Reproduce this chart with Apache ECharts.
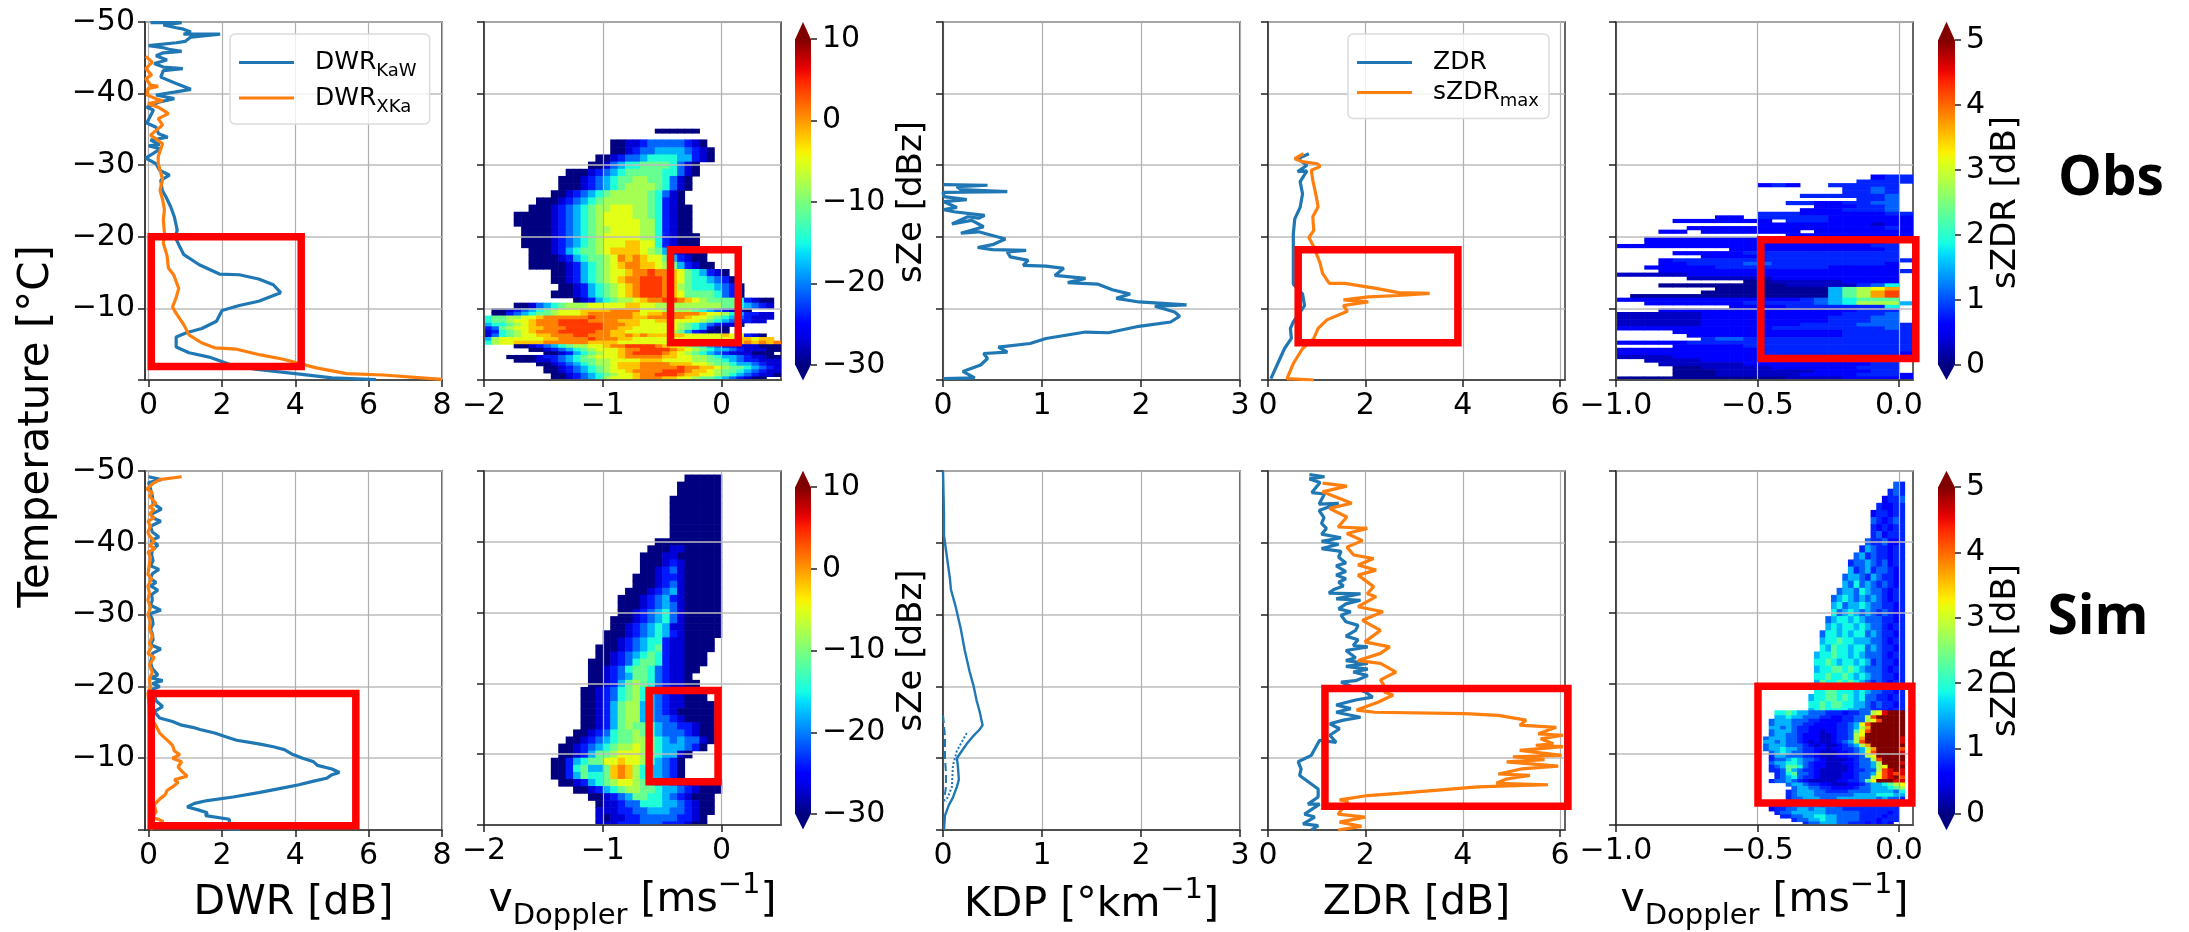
<!DOCTYPE html>
<html><head><meta charset="utf-8">
<style>html,body{margin:0;padding:0;background:#fff}#c{width:2189px;height:932px}</style>
<script src="https://cdn.jsdelivr.net/npm/echarts@6/dist/echarts.min.js"></script>
</head><body><div id="c"></div>
<script>
// ---------- line profiles: [value, temperature] ----------
const obsKaw=[[.05,-49.9],[.9,-49.9],[.4,-49.6],[.75,-49.2],[.95,-49],[1.15,-48.6],[.95,-48.3],[1.95,-48.3],[1.15,-47.9],[1,-47.3],[.75,-47.1],[0,-46.7],[.4,-46.4],[.55,-46.2],[.9,-45.9],[.4,-45.7],[.2,-45.3],[.5,-44.7],[.15,-44.2],[.4,-43.7],[.93,-43.5],[.4,-43.2],[.33,-42.3],[.75,-41.4],[1.15,-40.6],[.7,-40.2],[.2,-39.8],[.7,-39.3],[.27,-38.8],[-.05,-38.1],[.13,-37.7],[-.05,-35.9],[.2,-35.3],[.27,-34.4],[.52,-33.9],[.05,-33.5],[.3,-32.9],[0,-32.7],[.33,-32.3],[-.08,-31],[.2,-30.2],[.3,-29.3],[.57,-28.6],[.33,-27.9],[.37,-26.5],[.47,-25.6],[.6,-24.2],[.7,-22.8],[.78,-20.9],[.72,-20],[.82,-18.9],[.96,-17.5],[1.38,-16.1],[1.93,-14.8],[2.47,-14.7],[3,-14.1],[3.4,-13.3],[3.6,-12.2],[3,-11],[2.47,-10.4],[2,-9.7],[1.85,-8.2],[1.45,-7.2],[1.03,-6.6],[.75,-6],[.75,-4.6],[1.1,-3.8],[1.65,-3.2],[2.2,-2.2],[2.9,-1.5],[4,-.9],[5,-.3],[6.2,-.05]];
const obsXka=[[-.08,-45.2],[.1,-44.4],[-.08,-43.5],[.08,-42.6],[-.08,-42.1],[.05,-41.2],[.26,-41],[-.02,-40.7],[-.04,-39.8],[.19,-39.3],[.38,-39],[-.02,-38.6],[.26,-38.1],[.54,-37.2],[.26,-36.5],[.38,-35.6],[.05,-34.2],[.38,-33],[.26,-31.2],[.26,-30.3],[.38,-28],[.31,-26.5],[.38,-25.2],[.43,-23.8],[.4,-22.4],[.43,-20.5],[.4,-19.1],[.5,-17.4],[.54,-15.6],[.68,-14.7],[.82,-12.8],[.75,-11.5],[.65,-10.2],[.75,-9.3],[.96,-7.7],[1.1,-6.3],[1.44,-5.2],[1.8,-4.5],[2.4,-4.3],[3.05,-3.5],[3.67,-2.9],[4.57,-1.7],[5.4,-.9],[6.4,-.7],[8,-.1]];
const obsKdp=[[0,-27.3],[.45,-27.2],[.14,-27],[.18,-26.6],[.65,-26.3],[0,-26.2],[.01,-25.6],[.24,-25.2],[.01,-24.9],[.14,-24.1],[.01,-23.8],[.11,-23.5],[.42,-23],[.36,-22.6],[.25,-22.8],[.09,-21.8],[.29,-22.3],[.41,-21.4],[.18,-20.5],[.36,-20.7],[.63,-19.7],[.5,-18.9],[.35,-18.5],[.5,-18.2],[.84,-18.1],[.65,-17.9],[.68,-17.2],[.86,-16.7],[.81,-16],[1.04,-15.9],[1.22,-15.6],[1.13,-14.6],[1.44,-14.2],[1.26,-13.6],[1.56,-13.4],[1.71,-12.6],[1.89,-12],[1.75,-11.4],[1.98,-10.9],[2.46,-10.5],[2.14,-10.3],[2.34,-9.5],[2.39,-8.9],[2.3,-8.1],[1.98,-7.5],[1.67,-6.6],[1.44,-6.7],[1.04,-5.8],[.88,-5.1],[.56,-4.6],[.65,-3.9],[.41,-3.7],[.45,-3],[.38,-2.1],[.2,-1.2],[.32,-.3],[0,-.2]];
const obsZdr=[[.84,-31.6],[.61,-30.9],[.8,-30],[.61,-29.1],[.8,-29.2],[.66,-27.7],[.71,-26],[.66,-24.1],[.55,-22.5],[.52,-20.4],[.52,-17.6],[.52,-13.4],[.71,-12],[.75,-10.4],[.52,-8.1],[.46,-7.2],[.48,-5.8],[.34,-4.4],[.2,-2.3],[.06,-.2]];
const obsSzdr=[[.73,-31.6],[.55,-30.9],[.7,-30.5],[1.02,-30.2],[1.07,-29.8],[.89,-29.3],[.92,-27.9],[.98,-26],[1.03,-24.2],[.92,-22.8],[.94,-20.9],[.84,-19.9],[.94,-18.6],[1.07,-16.3],[1.12,-14.9],[1.26,-13.5],[1.58,-13.5],[2.22,-12.8],[2.68,-12.2],[3.32,-12.1],[2.68,-11.8],[2.06,-11.6],[1.55,-11.2],[2.06,-10.9],[1.55,-10.4],[1.63,-9.6],[1.21,-8.4],[1.03,-7.2],[.94,-5.8],[.71,-4.4],[.52,-2.3],[.39,-.2],[.94,0]];
const simKaw=[[0,-49.2],[.35,-48.8],[0,-48.4],[.05,-47.5],[.1,-46.5],[.12,-45.5],[.35,-44.7],[.08,-44],[.1,-43.5],[.33,-43],[.05,-42.3],[.1,-41.5],[.28,-40.8],[.05,-40.3],[.25,-39.7],[.1,-39],[.08,-38.3],[.12,-37.5],[.05,-36.8],[.28,-36.3],[.1,-35.7],[.05,-35],[.2,-34.5],[.05,-34],[.25,-33.4],[.08,-32.8],[.1,-32],[.05,-31.3],[.33,-30.6],[.02,-30.1],[.1,-29.4],[.12,-28.7],[.05,-28],[.1,-27.3],[.12,-26.5],[.05,-25.8],[.33,-25.2],[.1,-24.6],[.08,-23.9],[.05,-23.3],[.1,-22.5],[.25,-21.6],[.05,-21.2],[.38,-20.8],[.1,-20.4],[.3,-20],[.1,-19.6],[.15,-19],[.2,-18],[.38,-17.2],[.15,-16.5],[.3,-15.6],[.65,-15.1],[.9,-14.6],[1.2,-14.3],[1.4,-14],[1.8,-13.5],[2.1,-13],[2.4,-12.5],[3,-12],[3.4,-11.6],[3.7,-11.2],[3.9,-10.6],[4.2,-10],[4.5,-9.5],[4.6,-9],[5,-8.5],[5.2,-8],[5,-7.7],[4.85,-7.2],[4.5,-6.8],[4.1,-6.3],[3.6,-5.8],[3,-5.2],[2.3,-4.6],[1.6,-4.1],[1.25,-3.7],[1.05,-3.2],[1.35,-2.8],[1.6,-2.4],[1.55,-2],[2.2,-1.5],[2.2,-.8],[1.5,-.4],[2.5,-.1]];
const simXka=[[.9,-49.2],[.3,-48.8],[.1,-48.2],[-.05,-47.5],[.1,-47],[.02,-46.5],[.2,-45.5],[.02,-45],[.15,-44.6],[.02,-44],[.15,-43.5],[-.02,-43],[.05,-42.3],[-.02,-41.5],[.02,-41],[.15,-40.2],[.02,-39.6],[.18,-39.2],[-.02,-38.7],[.05,-38],[.02,-37],[-.02,-35.6],[.08,-35],[-.02,-34],[.02,-33],[-.02,-32],[.05,-31],[-.02,-30],[.05,-29],[.02,-28],[.1,-27],[.02,-26],[.08,-25.5],[-.02,-24.6],[.15,-24],[.02,-23],[.1,-22],[.02,-21],[.05,-20],[-.02,-19],[.02,-17],[.02,-16],[.1,-15.3],[.2,-14.5],[.3,-13.5],[.4,-13],[.55,-12.3],[.65,-11.8],[.7,-11],[.85,-10.5],[.65,-10],[.9,-9.5],[.8,-8.8],[.9,-8.2],[1.05,-7.5],[.7,-7],[.8,-6.6],[.65,-6],[.5,-5.5],[.45,-4.9],[.3,-4.3],[.15,-3.5],[.2,-2.5],[.1,-1.8],[.4,-1.2],[.15,-.5],[.05,-.1]];
const simKdp=[[0,-50],[.01,-44],[.01,-41],[.03,-39],[.07,-35],[.08,-33.5],[.13,-31],[.18,-28],[.22,-25],[.27,-22],[.31,-20],[.34,-18],[.37,-16.5],[.4,-14.6],[.37,-14],[.3,-13],[.24,-12],[.19,-11],[.14,-10],[.15,-9],[.16,-7],[.14,-6],[.1,-4.5],[.06,-3.5],[.02,-2],[.01,0]];
const simKdpDotted=[[.24,-13.5],[.14,-11],[.1,-9],[.09,-6],[.03,-4]];
const simKdpDashed=[[0,-16],[.02,-13],[.02,-10],[.03,-8],[.03,-6],[.01,-4]];
const simZdr=[[.85,-49.5],[1.16,-49.2],[.85,-48.9],[1.07,-48.4],[.9,-47],[1.16,-46.8],[1.05,-45.4],[1.45,-45.5],[1.05,-44.5],[1.15,-43.5],[1.1,-42.7],[1.2,-42],[1.1,-41.2],[1.5,-40.7],[1.1,-40.2],[1.45,-39.8],[1.1,-39.2],[1.5,-38.8],[1.45,-38],[1.6,-37.2],[1.4,-36.8],[1.6,-36],[1.4,-35.5],[1.6,-35],[1.45,-34.5],[1.55,-34],[1.35,-33.5],[1.25,-33],[1.9,-32.9],[1.4,-32.2],[1.9,-32],[1.6,-31.5],[1.45,-30.8],[1.7,-30.4],[1.5,-29.9],[1.6,-29],[1.85,-28.5],[1.8,-27.8],[1.6,-27],[1.85,-26.5],[1.75,-25.7],[2.05,-25.5],[1.6,-25],[1.8,-24],[1.6,-23.6],[2.05,-23.2],[1.6,-22.8],[2.05,-22.4],[1.75,-22],[2.05,-21.5],[1.8,-20.8],[1.5,-20.6],[2,-19.2],[2.15,-18.5],[1.8,-18.1],[1.4,-17.4],[1.7,-16.9],[1.4,-16.4],[1.9,-15.7],[1.55,-15.3],[1.27,-14.8],[1.47,-14.1],[1.27,-13.2],[1.4,-12.2],[1.06,-12.5],[.89,-10.4],[.62,-9.5],[.68,-8.5],[.65,-7.6],[.89,-6.4],[1.03,-5.7],[1.03,-4.6],[.82,-3.6],[1.06,-3.6],[.75,-2.2],[.96,-1.8],[.72,-.85],[1.03,-.6],[.89,0]];
const simSzdr=[[1.12,-48.3],[1.62,-47.9],[1.12,-47.1],[1.72,-45.5],[1.26,-44.8],[1.62,-43.6],[1.44,-42.2],[2.04,-42],[1.62,-41.3],[1.94,-40.3],[1.62,-39.4],[1.76,-38.3],[2.17,-37.8],[1.85,-36.9],[2.22,-36.2],[1.85,-35.5],[2.17,-33.9],[2.04,-32.9],[2.22,-32.5],[1.85,-31.1],[2.36,-30.4],[1.94,-29.2],[2.31,-27.8],[1.99,-26.2],[2.5,-25.5],[2.31,-24.6],[1.85,-23.6],[2.31,-23.2],[2.63,-22],[2.31,-20.9],[2.4,-19.9],[2.36,-20.4],[2.4,-19.2],[2.57,-18.8],[2.26,-17.8],[1.82,-16.7],[2.19,-16.4],[4.04,-16.2],[4.73,-15.96],[5.3,-15.3],[5.17,-14.6],[5.92,-14.3],[5.55,-13.4],[6.06,-13.2],[5.6,-12.7],[5.86,-12],[5.5,-11.8],[6.06,-11.6],[5.17,-11.1],[6.03,-10.4],[5.03,-10.2],[5.68,-9.8],[4.9,-9.5],[5.96,-8.9],[5.2,-8.5],[4.73,-7.8],[5.38,-7.6],[4.9,-7.1],[4.69,-6.5],[5.75,-6.3],[4.3,-6],[3.56,-5.6],[2.67,-5.1],[2.05,-4.8],[1.47,-4.2],[1.64,-4],[1.44,-2.2],[1.99,-1.8],[1.47,-1.1],[1.92,-.5],[1.44,0]];

// ---------- shaded panels: level tables and rows [top temperature, first bin, levels] ----------
const zeLevels=[-30,-27,-24,-21,-18,-14.5,-11,-8,-5,-2,1,4];
const zdrLevels=[.1,.3,.55,.8,1.1,1.5,1.85,2.3,2.8,3.2,3.7,4.2,5,4.6];
const obsZeRows=[[-35.1,23,"000000"],[-34.5,24,""],[-33.6,17,"0011233333210"],[-32.5,17,"00123344443210"],[-31.5,15,"0012334555544210"],[-30.5,14,"001345566665310"],[-29.5,11,"000123456666655310"],[-28.5,10,"000123456677665310"],[-27.5,10,"000123456777765310"],[-26.5,9,"001234567777765310"],[-25.5,7,"00012345677777765210"],[-24.5,6,"0001234567788877652100"],[-23.5,4,"000001234567888877652100"],[-22.5,4,"000001234567888887752100"],[-21.5,5,"00001234567788887752100"],[-20.5,5,"000012345678888877521000"],[-19.5,5,"000012345678889988521000"],[-18.5,6,"000124566789999876421000"],[-17.5,6,"000012456678a9a988642100"],[-16.5,6,"0000012456789aa9987642100"],[-15.5,9,"00124567889aabaa98654210"],[-14.5,9,"0012456789aabbba986554320"],[-13.5,10,"0012456789abbba9765554320"],[-12.5,9,"00012456789abbba9866665320"],[-11.5,12,"0124567789aabba987666652100"],[-10.8,4,"00134567778888899887777777776654321"],[-10,1,"0012345678889999aaaa888777765432110"],[-9.5,1,"0023456678889aaaaaa9899aaaaa9887542211"],[-9,0,"56677889aaaaaabaaaaa99aaaaa988765432111"],[-8.5,0,"5667889aaabbbbaaaa99988998888765432211"],[-8,0,"4556789aaabbbbbbaaa9988888765432110"],[-7.5,0,"23678899aaabbbbbaa998888887654100"],[-7,0,"1256789aaabbbbbaa9988888876421000"],[-6.5,0,"135678899aaabbaaa99a9a9999988888988210"],[-6,0,"4788888899aaaabaaa998888888888888899899"],[-5.5,0,"57889999aaaaaa999988888888888888899a9a9a"],[-5,4,"0012345677889aabbbba988765432211100000"],[-4.5,6,"0012345678889aabbbba9876544321110000"],[-4,8,"00124567889abbbba98765432111000"],[-3.5,3,"0000122345678889aaaaa9988776544321100000"],[-3,4,"00011234566778888999888877665432211100"],[-2.5,7,"00123456778999aaaa9998876654432110"],[-2,8,"0012345678999aaaaabaa9987665432110"],[-1.5,8,"001234567889aaaabbba99876654321100"],[-1,9,"001234567889aabbba9988765432110"],[-.5,9,"001234578889aaa99887665432100"]];
const simZeRows=[[-49.5,27,"00000"],[-48.5,26,"000000"],[-47.5,26,"000000"],[-46.5,25,"0000000"],[-45.5,25,"0000000"],[-44.5,25,"0000000"],[-43.5,25,"0000000"],[-42.5,25,"0000000"],[-41.5,25,"0000000"],[-40.5,23,"000000000"],[-39.5,22,"0001100000"],[-38.5,21,"00011000000"],[-37.5,21,"00012100000"],[-36.5,21,"00123100000"],[-35.5,20,"000122100000"],[-34.5,20,"000123100000"],[-33.5,19,"0001234100000"],[-32.5,18,"00012342100000"],[-31.5,18,"00012343100000"],[-30.5,18,"00123453100000"],[-29.5,17,"000123453100000"],[-28.5,17,"001234541100000"],[-27.5,16,"0001234542100000"],[-26.5,16,"001234552110000"],[-25.5,15,"0001234562110000"],[-24.5,15,"001234565211000"],[-23.5,14,"0001235665211000"],[-22.5,14,"001235665321100"],[-21.5,14,"00123466532110"],[-20.5,14,"001246765321100"],[-19.5,13,"0012356754321100"],[-18.5,13,"00123567543211000"],[-17.5,13,"001246774432110000"],[-16.5,13,"001246774432100000"],[-15.5,13,"001246774433210000"],[-14.5,13,"001246766543322100"],[-13.5,12,"0012356676543332100"],[-12.5,11,"00123456677654343310"],[-11.5,10,"00123456778765444320"],[-10.5,10,"001246678887654410"],[-9.5,9,"002456688988754320"],[-8.5,9,"002564469a97544320"],[-7.5,9,"002465569a97544320"],[-6.5,10,"0012456788765443211000"],[-5.5,12,"00124567766544321000"],[-4.5,14,"00123466554321000"],[-3.5,15,"0112335554432100"],[-2.5,15,"1112233444332100"],[-1.5,15,"101122333332210"],[-.5,15,"111222333222100"]];
const obsZdrRows=[[-28.7,18,"233"],[-28,17,"3333"],[-27.5,10,"232..33333"],[-27,16,"3343"],[-26.5,16,"3343"],[-26,13,"3333334"],[-25.5,17,"334"],[-25,12,"33223344"],[-24.5,14,"222334"],[-24,13,"2223334"],[-23.5,10,"33322222233"],[-23,7,"22.33333222222223"],[-22.5,4,"2222222.33322222222"],[-22,10,"22222222122"],[-21.5,5,"2222222222222232"],[-21,3,"22.2222222.222222222"],[-20.5,12,"222222222"],[-20,2,"222222222222222333"],[-19.5,2,"222222222222222223"],[-19,0,"22222222222222222233"],[-18.5,8,"222222222223"],[-18,4,"2222233333333333"],[-17.5,6,"22223333333333"],[-17,3,"233333333333333333"],[-16.5,3,"22333344333333332"],[-16,2,"222223333333322222"],[-15.5,3,"222222222222222223"],[-15,0,"11111222222222222222"],[-14.5,5,"111111222222222"],[-14,9,"00111112222"],[-13.5,3,"00000000011111346"],[-13,7,"000000005789a"],[-12.5,6,"000000000578ab"],[-12,1,"00000000000000578ab"],[-11.5,0,"22222222222223456777"],[-11,2,"2222222333334568885"],[-10.5,8,"222233333336"],[-10,3,"22222222222222333"],[-9.5,0,"11111122222222223334"],[-9,0,"11111122222222233344"],[-8.5,0,"11111122222222233344"],[-8,0,"111111222222233334443"],[-7.5,0,"222222222223333333343"],[-7,4,"22222222222233333"],[-6.5,5,"2222222222233333"],[-6,6,"344333333333333"],[-5.5,0,"222223333333333333333"],[-5,4,"22222333333333333"],[-4.5,0,"222222222233333333333"],[-4,0,"222222222233333333332"],[-3.5,0,"11112222222222333333"],[-3,2,"111122222222223333"],[-2.5,3,"11111122222222233"],[-2,4,"0011111222222333"],[-1.5,4,"0001111111222233"],[-1,4,"00011111122223332"],[-.5,0,"000000000000111122222"]];
const simZdrRows=[[-48.5,49,"43"],[-47.5,48,"343"],[-46.5,47,"2334"],[-45.5,46,"32233"],[-44.5,45,"233233"],[-43.5,45,"432343"],[-42.5,45,"323233"],[-41.5,45,"342333"],[-40.5,44,"4334223"],[-39.5,43,"35433233"],[-38.5,42,"453433233"],[-37.5,41,"3445434233"],[-36.5,41,"5345344323"],[-35.5,40,"45543543323"],[-34.5,40,"54645434323"],[-33.5,39,"455465443233"],[-32.5,38,"4565454543233"],[-31.5,38,"5645565443323"],[-30.5,38,"6456545434323"],[-29.5,37,"45665654443323"],[-28.5,37,"56566565443233"],[-27.5,36,"466565664543323"],[-26.5,36,"566766555443233"],[-25.5,36,"657665664543323"],[-24.5,35,"5667665654443233"],[-23.5,35,"6676566565343323"],[-22.5,35,"5667767654443233"],[-21.5,35,"6676676565443323"],[-20.5,35,"5766767654343233"],[-19.5,35,"6677666565443323"],[-18.5,34,"56677676564433233"],[-17.5,34,"66767766554343323"],[-16.5,34,"56766665544333233"],[-16.2,28,"6676554443332334489dcccc"],[-15.5,28,"55655444332233448bcccccc"],[-15,27,"4555444332222334489bccccc"],[-14.5,27,"45554433222233459bccccccc"],[-14,27,"55454332222233458accccccc"],[-13.5,27,"45554332212233479bccccccc"],[-13,27,"45544322211233489ccccccc"],[-12.5,26,"45554432221123348accccccdc"],[-12,26,"55454432121123458bccccccdb"],[-11.5,26,"455544432121123458accccccb"],[-11,26,"4556554332212233458accccb"],[-10.5,27,"456544332111223459bccccdb"],[-10,27,"3554443321112233489cccccd"],[-9.5,27,"3445654432111123448bccccd"],[-9,27,"45566543221112234458cccdb"],[-8.5,27,"345776432211112344589cccd"],[-8,27,"33475433211111233448bdcdb"],[-7.5,28,"3467443211112234459bdbdb"],[-7,28,"3456433211112234489bdcbdb"],[-6.5,27,"3445432111112233479cccddb"],[-6,30,"455433221112234556789a9"],[-5.5,31,"455443322223445556789"],[-5,30,"34555443333444455554667"],[-4.5,30,"34555444444455556665544"],[-4,30,"344555444555555545443"],[-3.5,26,"122344445555444443333343"],[-3,27,"22334444434433333333333"],[-2.5,27,"23344554554443333333333"],[-2,28,"3445555554444443333323"],[-1.5,29,"334455665544443333233"],[-1,31,"3445565544443332333"],[-.5,33,"3445554433323232"]];

// ---------- annotation boxes: [x from, x to, T from, T to] ----------
const boxObs={dwr:[.07,4.16,-20,-1.9],vel:[-.43,.14,-18.2,-5.2],zdr:[.62,3.9,-18.2,-5.2],szdr:[-.488,.06,-19.6,-3]};
const boxSim={dwr:[.07,5.65,-19,-.6],vel:[-.61,-.03,-19,-6.1],zdr:[1.17,6.16,-19.7,-3.3],szdr:[-.498,.046,-19.6,-3.1]};
const yTicks=[-50,-40,-30,-20,-10,0];

// ---------- helpers ----------
const FONT='"DejaVu Sans"';
function jet(t){t=Math.max(0,Math.min(1,t));
 const seg=(p)=>{for(let i=0;i<p.length-1;i++){if(t<=p[i+1][0]){const f=(t-p[i][0])/(p[i+1][0]-p[i][0]);return p[i][1]+f*(p[i+1][1]-p[i][1]);}}return p[p.length-1][1];};
 const r=seg([[0,0],[.35,0],[.66,1],[.89,1],[1,.5]]),g=seg([[0,0],[.125,0],[.375,1],[.64,1],[.91,0],[1,0]]),b=seg([[0,.5],[.11,1],[.34,1],[.65,0],[1,0]]);
 return `rgb(${Math.round(r*255)},${Math.round(g*255)},${Math.round(b*255)})`;}
const fmtMinus=v=>String(v).replace('-','\u2212');
const grids=[],xAxes=[],yAxes=[],series=[];
function addGrid(left,top,width,height,showBorder){grids.push({left,top,width,height,show:showBorder,borderColor:'#333',borderWidth:1.5,backgroundColor:'transparent',containLabel:false});return grids.length-1;}
const tickStyle={length:7,lineStyle:{color:'#222',width:1.5}};
function panel(left,top,o){
 const i=addGrid(left,top,297,top<200?358:359,true);
 const z=o.heat?3:0;
 xAxes.push({gridIndex:i,type:'value',min:o.min,max:o.max,z,
  axisLine:{show:true,onZero:false,lineStyle:{color:'#333',width:1.5}},
  axisTick:{show:true,customValues:o.ticks,...tickStyle},
  axisLabel:{show:true,customValues:o.ticks,formatter:o.fmt||fmtMinus,color:'#000',fontSize:30,fontFamily:FONT,margin:11,showMinLabel:true,showMaxLabel:true,hideOverlap:false},
  splitLine:{show:true,lineStyle:{color:'#b0b0b0',width:1.2}},
  name:o.name||'',nameLocation:'middle',nameGap:o.nameGap||48,nameTextStyle:o.nameStyle||{}});
 yAxes.push({gridIndex:i,type:'value',inverse:true,min:-50,max:0,z,
  axisLine:{show:true,onZero:false,lineStyle:{color:'#333',width:1.5}},
  axisTick:{show:true,customValues:yTicks,...tickStyle},
  axisLabel:{show:!!o.yLabels,customValues:yTicks,formatter:v=>v===0?'':fmtMinus(v),color:'#000',fontSize:30,fontFamily:FONT,margin:10},
  splitLine:{show:true,lineStyle:{color:'#bdbdbd',width:1.6}}});
 return i;}
function line(i,name,data,color,extra){series.push({type:'line',name,xAxisIndex:i,yAxisIndex:i,data,showSymbol:false,symbol:'none',animation:false,silent:true,z:2,
  lineStyle:{color,width:3.2,...(extra||{})},itemStyle:{color}});}
function heat(i,rows,levels,x0,dx,maxBin,vmin,vmax){
 const data=[];
 rows.forEach((r,k)=>{const t1=k<rows.length-1?rows[k+1][0]:0;
  [...r[2]].forEach((ch,n)=>{const bin=r[1]+n;if(ch==='.'||bin>maxBin)return;
   data.push([x0+bin*dx,x0+(bin+1)*dx,r[0],t1,levels[parseInt(ch,36)]]);});});
 series.push({type:'custom',xAxisIndex:i,yAxisIndex:i,data,animation:false,silent:true,z:2,clip:true,progressive:0,
  encode:{x:[0,1],y:[2,3]},
  renderItem:(p,api)=>{const a=api.coord([api.value(0),api.value(2)]),b=api.coord([api.value(1),api.value(3)]);
   return{type:'rect',shape:{x:a[0],y:a[1],width:b[0]-a[0]+.6,height:b[1]-a[1]+.6},style:{fill:jet((api.value(4)-vmin)/(vmax-vmin))}};}});}
function redBox(i,b){series.push({type:'custom',xAxisIndex:i,yAxisIndex:i,data:[b],animation:false,silent:true,z:20,clip:false,encode:{x:[0,1],y:[2,3]},
  renderItem:(p,api)=>{const a=api.coord([api.value(0),api.value(2)]),c=api.coord([api.value(1),api.value(3)]);
   return{type:'rect',z2:50,shape:{x:a[0],y:a[1],width:c[0]-a[0],height:c[1]-a[1]},style:{fill:'none',stroke:'#ff0000',lineWidth:7.5}};}});}
const stops=[];for(let k=0;k<=32;k++)stops.push({offset:k/32,color:jet(1-k/32)});
function colorbar(left,top,width,height,vmin,vmax,interval,tipLo,tipHi,label,nameGap){
 const i=addGrid(left,top,width,height,false);
 xAxes.push({gridIndex:i,type:'value',min:0,max:1,show:false});
 yAxes.push({gridIndex:i,type:'value',min:vmin,max:vmax,interval,position:'right',
  axisLine:{show:false,onZero:false},axisTick:{show:true,length:6,lineStyle:{color:'#222',width:1.5}},splitLine:{show:false},
  axisLabel:{formatter:fmtMinus,color:'#000',fontSize:30,fontFamily:FONT,margin:11},
  name:label,nameLocation:'middle',nameRotate:90,nameGap,nameTextStyle:{fontSize:34,fontFamily:FONT,color:'#000'}});
 series.push({type:'custom',xAxisIndex:i,yAxisIndex:i,animation:false,silent:true,clip:false,data:[[0,1,vmin,vmax,tipLo,tipHi]],encode:{x:[0,1],y:[2,3]},
  renderItem:(p,api)=>{const a=api.coord([0,vmax]),b=api.coord([1,vmin]),lo=api.coord([.5,tipLo]),hi=api.coord([.5,tipHi]);
   return{type:'group',children:[
    {type:'rect',shape:{x:a[0],y:a[1],width:b[0]-a[0],height:b[1]-a[1]},style:{fill:{type:'linear',x:0,y:0,x2:0,y2:1,colorStops:stops}}},
    {type:'polygon',shape:{points:[[a[0],a[1]+.5],[b[0],a[1]+.5],hi]},style:{fill:jet(1)}},
    {type:'polygon',shape:{points:[[a[0],b[1]-.5],[b[0],b[1]-.5],lo]},style:{fill:jet(0)}}]};}});}

const richLabel={m:{fontSize:41,fontFamily:FONT,color:'#000',lineHeight:50,verticalAlign:'middle'},
  s:{fontSize:29,fontFamily:FONT,color:'#000',verticalAlign:'bottom',lineHeight:50,padding:[0,0,-6,0]},
  u:{fontSize:29,fontFamily:FONT,color:'#000',verticalAlign:'top',lineHeight:50,padding:[-4,0,0,0]}};
const nameStyle={rich:richLabel,color:'#000',fontFamily:FONT,fontSize:41};
const vName='{m|v}{s|Doppler}{m| [ms}{u|\u22121}{m|]}';
const kName='{m|KDP [\u00b0km}{u|\u22121}{m|]}';

// ---------- panels ----------
const cols=[145,484,943,1268,1616];
const rowsTop=[22,471];
const dwrAx={min:-.1,max:8,ticks:[0,2,4,6,8],yLabels:true};
const velAx={min:-2,max:.5,ticks:[-2,-1,0]};
const kdpAx={min:0,max:3,ticks:[0,1,2,3]};
const zdrAx={min:0,max:6.1,ticks:[0,2,4,6]};
const szAx={min:-1,max:.05,ticks:[-1,-.5,0],fmt:v=>fmtMinus(v.toFixed(1))};

let p=panel(cols[0],rowsTop[0],dwrAx);line(p,'DWR_KaW',obsKaw,'#1f77b4');line(p,'DWR_XKa',obsXka,'#ff7f0e');redBox(p,boxObs.dwr);
p=panel(cols[1],rowsTop[0],{...velAx,heat:true});heat(p,obsZeRows,zeLevels,-2,.0625,39,-30,10);redBox(p,boxObs.vel);
p=panel(cols[2],rowsTop[0],kdpAx);line(p,'KDP obs',obsKdp,'#1f77b4');
p=panel(cols[3],rowsTop[0],zdrAx);line(p,'ZDR',obsZdr,'#1f77b4');line(p,'sZDR_max',obsSzdr,'#ff7f0e');redBox(p,boxObs.zdr);
p=panel(cols[4],rowsTop[0],{...szAx,heat:true});heat(p,obsZdrRows,zdrLevels,-1,.05,20,0,5);redBox(p,boxObs.szdr);

p=panel(cols[0],rowsTop[1],{...dwrAx,name:'{m|DWR [dB]}',nameStyle});line(p,'DWR_KaW',simKaw,'#1f77b4');line(p,'DWR_XKa',simXka,'#ff7f0e');redBox(p,boxSim.dwr);
p=panel(cols[1],rowsTop[1],{...velAx,heat:true,name:vName,nameStyle,nameGap:50});heat(p,simZeRows,zeLevels,-2,.0625,39,-30,10);redBox(p,boxSim.vel);
p=panel(cols[2],rowsTop[1],{...kdpAx,name:kName,nameStyle,nameGap:50});line(p,'KDP sim',simKdp,'#1f77b4',{width:2.4});line(p,'KDP sim dotted',simKdpDotted,'#1f77b4',{type:'dotted',width:2});line(p,'KDP sim dashed',simKdpDashed,'#1f77b4',{type:'dashed',width:2});
p=panel(cols[3],rowsTop[1],{...zdrAx,name:'{m|ZDR [dB]}',nameStyle});line(p,'ZDR',simZdr,'#1f77b4');line(p,'sZDR_max',simSzdr,'#ff7f0e');redBox(p,boxSim.zdr);
p=panel(cols[4],rowsTop[1],{...szAx,heat:true,name:vName,nameStyle,nameGap:50});heat(p,simZdrRows,zdrLevels,-1,.02,50,0,5);redBox(p,boxSim.szdr);

colorbar(795,39,16,326,-30,10,10,-31.9,12.1,'sZe [dBz]',84);
colorbar(795,487,16,327,-30,10,10,-31.9,12.0,'sZe [dBz]',84);
colorbar(1938,40,17,325,0,5,1,-.23,5.28,'sZDR [dB]',28);
colorbar(1938,487,17,327,0,5,1,-.25,5.25,'sZDR [dB]',28);

const legendRich={a:{fontSize:25,fontFamily:FONT,color:'#000',padding:[0,0,0,16],lineHeight:30},b:{fontSize:18,fontFamily:FONT,color:'#000',verticalAlign:'bottom',lineHeight:30,padding:[0,0,-3,0]}};
const legendText={DWR_KaW:'{a|DWR}{b|KaW}',DWR_XKa:'{a|DWR}{b|XKa}',ZDR:'{a|ZDR}',sZDR_max:'{a|sZDR}{b|max}'};
function legend(left,top,names,w){return{left,top,orient:'vertical',data:names,icon:'rect',itemWidth:55,itemHeight:3,itemGap:5,selectedMode:false,
  padding:[16,w,8,9],backgroundColor:'rgba(255,255,255,.8)',borderColor:'#dcdcdc',borderWidth:1.5,borderRadius:5,z:30,
  formatter:n=>legendText[n],textStyle:{rich:legendRich}};}

const chart=echarts.init(document.getElementById('c'),null,{renderer:'canvas'});
chart.setOption({animation:false,backgroundColor:'#fff',textStyle:{fontFamily:FONT},
 grid:grids,xAxis:xAxes,yAxis:yAxes,series,
 legend:[legend(230,34,['DWR_KaW','DWR_XKa'],13),legend(1348,34,['ZDR','sZDR_max'],10)],
 graphic:[
  {type:'text',left:16,top:245,rotation:Math.PI/2,originX:0,originY:0,silent:true,style:{text:'Temperature [\u00b0C]',fontSize:42,fontFamily:FONT,fill:'#000',textAlign:'center',textVerticalAlign:'middle'}},
  {type:'text',silent:true,x:2111,y:179,style:{text:'Obs',fontSize:55,fontWeight:'bold',fontFamily:'"Open Sans"',fill:'#000',textAlign:'center',textVerticalAlign:'middle'}},
  {type:'text',silent:true,x:2098,y:618,style:{text:'Sim',fontSize:55,fontWeight:'bold',fontFamily:'"Open Sans"',fill:'#000',textAlign:'center',textVerticalAlign:'middle'}}
 ]});
</script></body></html>
